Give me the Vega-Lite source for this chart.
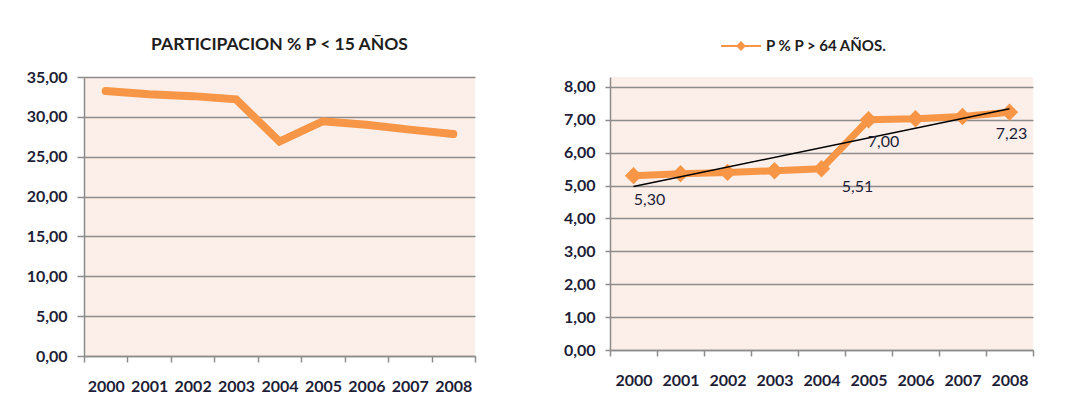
{
  "$schema": "https://vega.github.io/schema/vega-lite/v6.json",
  "background": "white",
  "padding": {"left": 26, "top": 35, "right": 10, "bottom": 10},
  "spacing": 87,
  "resolve": {"scale": {"color": "independent"}, "legend": {"color": "independent"}},
  "config": {
    "locale": {"number": {"decimal": ",", "thousands": ".", "grouping": [3], "currency": ["", " €"]}},
    "font": "Lato",
    "view": {"stroke": null, "fill": "#FCEEE8"},
    "axis": {
      "labelFont": "Lato", "labelFontWeight": "bold", "labelFontSize": 16, "labelColor": "#1E1E38",
      "domainColor": "#8C8C8C", "tickColor": "#8C8C8C", "gridColor": "#8C8C8C",
      "domainWidth": 1.5, "tickWidth": 1.5, "gridWidth": 1.5
    }
  },
  "hconcat": [
    {
      "width": 391,
      "height": 279,
      "title": {"text": "PARTICIPACION % P < 15 AÑOS", "font": "Lato", "fontSize": 17.5, "fontWeight": "bold", "color": "#1E1E1E", "offset": 16, "anchor": "middle", "frame": "group"},
      "data": {"values": [
        {"year": 2000, "p": 33.24},
        {"year": 2001, "p": 32.85},
        {"year": 2002, "p": 32.6},
        {"year": 2003, "p": 32.2},
        {"year": 2004, "p": 26.9},
        {"year": 2005, "p": 29.45},
        {"year": 2006, "p": 29.0},
        {"year": 2007, "p": 28.4},
        {"year": 2008, "p": 27.85}
      ]},
      "mark": {"type": "line", "color": "#F79646", "strokeWidth": 8, "strokeCap": "round"},
      "encoding": {
        "x": {"field": "year", "type": "ordinal", "bandPosition": 0.5,
              "scale": {"type": "band", "paddingInner": 0, "paddingOuter": 0},
              "axis": {"title": null, "labelAngle": 0, "tickBand": "extent", "tickSize": 6, "labelPadding": 16}},
        "y": {"field": "p", "type": "quantitative", "scale": {"domain": [0, 35]},
              "axis": {"title": null, "values": [0, 5, 10, 15, 20, 25, 30, 35], "format": ".2f", "tickSize": 7, "labelPadding": 10, "grid": true}}
      }
    },
    {
      "width": 423,
      "height": 273,
      "data": {"values": [
        {"year": 2000, "v": 5.30},
        {"year": 2001, "v": 5.36},
        {"year": 2002, "v": 5.40},
        {"year": 2003, "v": 5.45},
        {"year": 2004, "v": 5.51},
        {"year": 2005, "v": 7.00},
        {"year": 2006, "v": 7.03},
        {"year": 2007, "v": 7.10},
        {"year": 2008, "v": 7.23}
      ]},
      "encoding": {
        "x": {"field": "year", "type": "ordinal", "bandPosition": 0.5,
              "scale": {"type": "band", "paddingInner": 0, "paddingOuter": 0},
              "axis": {"title": null, "labelAngle": 0, "tickBand": "extent", "tickSize": 6, "labelPadding": 16}},
        "y": {"field": "v", "type": "quantitative", "scale": {"domain": [0, 8.3], "nice": false},
              "axis": {"title": null, "values": [0, 1, 2, 3, 4, 5, 6, 7, 8], "format": ".2f", "tickSize": 5, "labelPadding": 10, "grid": true}}
      },
      "layer": [
        {
          "mark": {"type": "line", "strokeWidth": 7},
          "encoding": {
            "color": {"datum": "P % P > 64 AÑOS.", "scale": {"range": ["#F79646"]},
                      "legend": {"title": null, "orient": "none", "legendX": 120, "legendY": -42, "padding": 0,
                                 "labelFont": "Lato", "labelFontWeight": "bold", "labelFontSize": 15, "labelColor": "#1E1E1E",
                                 "symbolType": "M-2,0L2,0M0,-0.35L0.35,0L0,0.35L-0.35,0Z", "symbolSize": 400,
                                 "symbolStrokeWidth": 2, "symbolFillColor": "#F79646", "symbolStrokeColor": "#F79646", "labelOffset": 14}}
          }
        },
        {
          "mark": {"type": "point", "shape": "diamond", "filled": true, "size": 300, "opacity": 1},
          "encoding": {"color": {"datum": "P % P > 64 AÑOS."}}
        },
        {
          "transform": [{"regression": "v", "on": "year"}],
          "mark": {"type": "line", "color": "#000000", "strokeWidth": 1.5},
          "encoding": {}
        },
        {
          "transform": [{"filter": "datum.year == 2000"}],
          "mark": {"type": "text", "dx": 16, "dy": 24, "font": "Lato", "fontSize": 16, "color": "#1E1E38"},
          "encoding": {"text": {"field": "v", "type": "quantitative", "format": ".2f"}}
        },
        {
          "transform": [{"filter": "datum.year == 2004"}],
          "mark": {"type": "text", "dx": 36, "dy": 18, "font": "Lato", "fontSize": 16, "color": "#1E1E38"},
          "encoding": {"text": {"field": "v", "type": "quantitative", "format": ".2f"}}
        },
        {
          "transform": [{"filter": "datum.year == 2005"}],
          "mark": {"type": "text", "dx": 15, "dy": 22, "font": "Lato", "fontSize": 16, "color": "#1E1E38"},
          "encoding": {"text": {"field": "v", "type": "quantitative", "format": ".2f"}}
        },
        {
          "transform": [{"filter": "datum.year == 2008"}],
          "mark": {"type": "text", "dx": 2, "dy": 22, "font": "Lato", "fontSize": 16, "color": "#1E1E38"},
          "encoding": {"text": {"field": "v", "type": "quantitative", "format": ".2f"}}
        }
      ]
    }
  ]
}
